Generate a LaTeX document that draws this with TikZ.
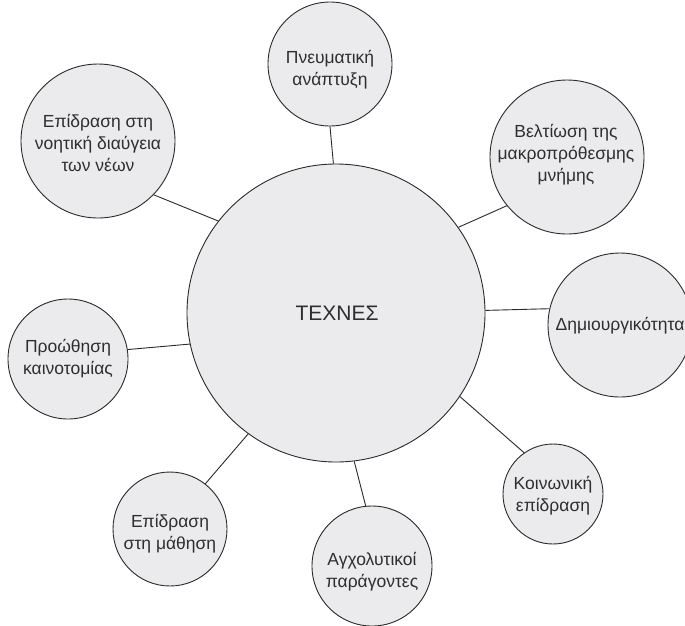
\documentclass[tikz,border=0pt]{standalone}
\usepackage{fontspec}
\setmainfont{Liberation Sans}
\definecolor{bubfill}{HTML}{EBEBED}
\definecolor{linec}{HTML}{2A2A2A}
\definecolor{textc}{HTML}{2E2E2E}
\begin{document}
\begin{tikzpicture}[x=1pt,y=-1pt,
  bub/.style={circle, draw=linec, fill=bubfill, line width=0.9pt, inner sep=0pt},
  lbl/.style={align=center, inner sep=0pt, font=\fontsize{17.5}{22}\selectfont, text=textc},
  conn/.style={draw=linec, line width=0.9pt}]
\clip (0,0) rectangle (685,625);
\fill[white] (0,0) rectangle (685,625);
% bubbles
\node[bub, minimum size=298pt] (main) at (336,313) {};
\node[bub, minimum size=124pt] (pn)   at (330,64)  {};
\node[bub, minimum size=154pt] (bel)  at (567,157) {};
\node[bub, minimum size=144pt] (dim)  at (620,325) {};
\node[bub, minimum size=100pt] (koi)  at (553,494) {};
\node[bub, minimum size=120pt] (agx)  at (372,566) {};
\node[bub, minimum size=114pt] (mat)  at (170,529) {};
\node[bub, minimum size=120pt] (pro)  at (68,359)  {};
\node[bub, minimum size=154pt] (noi)  at (98,141)  {};
% texts
\node[lbl, font=\fontsize{21}{24}\selectfont] (tmain) at (337,313) {ΤΕΧΝΕΣ};
\node[lbl] (tpn)  at (330,70)  {Πνευματική\\ανάπτυξη};
\node[lbl] (tbel) at (566,155) {Βελτίωση της\\μακροπρόθεσμης\\μνήμης};
\node[lbl] (tdim) at (620,326) {Δημιουργικότητα};
\node[lbl] (tkoi) at (553,496) {Κοινωνική\\επίδραση};
\node[lbl] (tagx) at (372,572) {Αγχολυτικοί\\παράγοντες};
\node[lbl] (tmat) at (170,534) {Επίδραση\\στη μάθηση};
\node[lbl] (tpro) at (68,359)  {Προώθηση\\καινοτομίας};
\node[lbl] (tnoi) at (98,143)  {Επίδραση στη\\νοητική διαύγεια\\των νέων};
% connectors
\draw[conn] (main.91.4) -- (pn.270);
\draw[conn] (main.35) -- (bel.219);
\draw[conn] (main.1.5) -- (dim.167.5);
\draw[conn] (main.-34.9) -- (koi.125.5);
\draw[conn] (main.-83.4) -- (agx.96.7);
\draw[conn] (main.234.2) -- (mat.52);
\draw[conn] (main.192) -- (pro.9.5);
\draw[conn] (main.142.9) -- (noi.-44);
\end{tikzpicture}
\end{document}
